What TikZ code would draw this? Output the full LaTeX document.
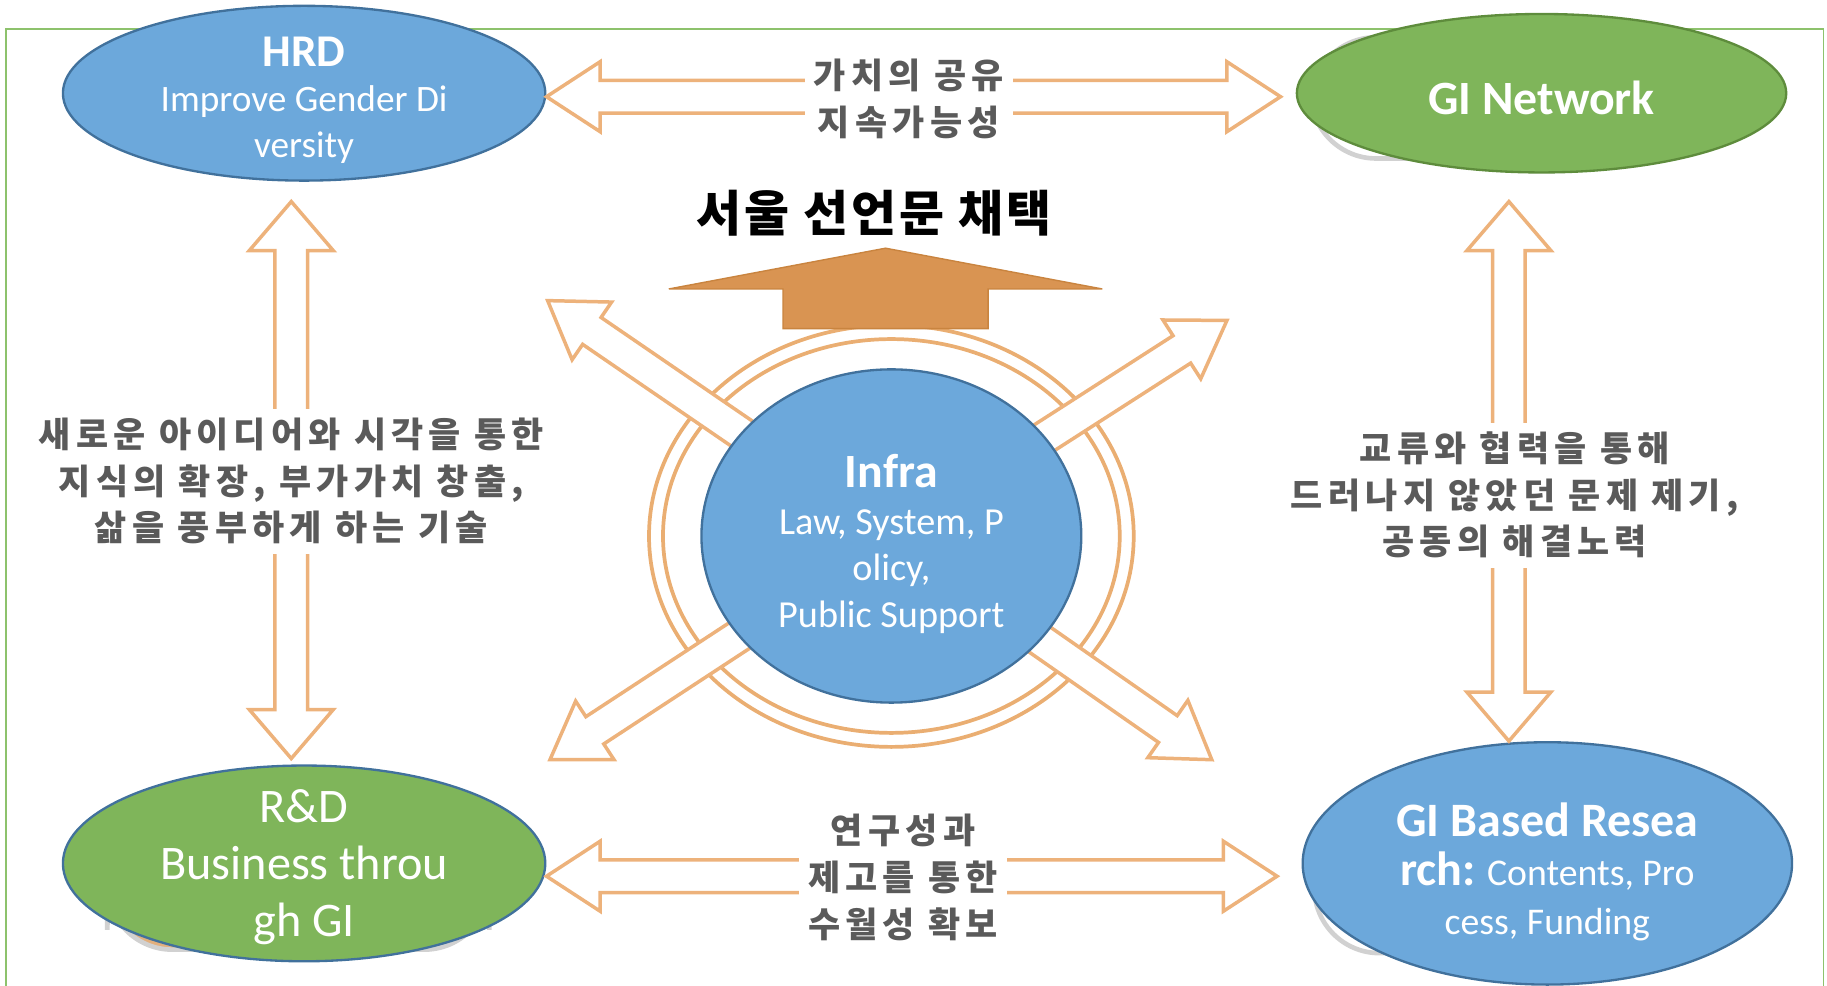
\documentclass[tikz,border=0pt]{standalone}
\usepackage{fontspec}
\setmainfont{Carlito}
\newfontfamily\kr{Noto Sans CJK KR}
\newfontfamily\krwide[LetterSpace=15]{Noto Sans CJK KR}
\newfontfamily\krtitle[LetterSpace=6]{Noto Sans CJK KR}
\usetikzlibrary{shapes,calc,positioning}
\pgfdeclarelayer{edgelayer}
\pgfsetlayers{edgelayer,main}
\definecolor{blfill}{HTML}{6CA8DB}
\definecolor{bledge}{HTML}{41719C}
\definecolor{grfill}{HTML}{7FB55A}
\definecolor{gredge}{HTML}{5E8C3C}
\definecolor{orline}{HTML}{EDB27B}
\definecolor{orring}{HTML}{EAAE72}
\definecolor{orfill}{HTML}{D99452}
\definecolor{oredge}{HTML}{C9843F}
\definecolor{framecol}{HTML}{8DC26C}
\definecolor{krgray}{HTML}{5A5A5A}
\tikzstyle{blueov}=[ellipse,fill=blfill,draw=bledge,line width=1pt,inner sep=0pt]
\tikzstyle{greenov}=[ellipse,fill=grfill,draw=gredge,line width=1pt,inner sep=0pt]
\tikzstyle{wtxt}=[text=white,align=center,inner sep=0pt]
\tikzstyle{krtxt}=[text=krgray,align=center,fill=white,inner sep=4pt,font=\krwide\bfseries\fontsize{15}{20}\selectfont]
\tikzstyle{harrow}=[draw=orline,line width=1.5pt,fill=white,line join=miter]
\tikzstyle{shadowbox}=[draw=black!18,line width=2pt,fill=white,rounded corners=28pt]
\newcommand{\shaftw}{7pt}
\newcommand{\headw}{15pt}
\newcommand{\headl}{23pt}
\newcommand{\dblarrow}[2]{%
\path ($(#1)!\headl!(#2)$) coordinate (ha) ($(#2)!\headl!(#1)$) coordinate (hb);
\draw[harrow] (#1) -- ($(ha)!\headw!90:(#2)$) -- ($(ha)!\shaftw!90:(#2)$)
  -- ($(hb)!\shaftw!-90:(#1)$) -- ($(hb)!\headw!-90:(#1)$) -- (#2)
  -- ($(hb)!\headw!90:(#1)$) -- ($(hb)!\shaftw!90:(#1)$)
  -- ($(ha)!\shaftw!-90:(#2)$) -- ($(ha)!\headw!-90:(#2)$) -- cycle;}
\newcommand{\sglarrow}[2]{%
\path ($(#2)!\headl!(#1)$) coordinate (hb);
\draw[harrow] ($(#1)!\shaftw!90:(#2)$) -- ($(hb)!\shaftw!-90:(#1)$)
  -- ($(hb)!\headw!-90:(#1)$) -- (#2) -- ($(hb)!\headw!90:(#1)$)
  -- ($(hb)!\shaftw!90:(#1)$) -- ($(#1)!\shaftw!-90:(#2)$) -- cycle;}

\begin{document}
\begin{tikzpicture}[x=0.5pt,y=-0.5pt]
\useasboundingbox (0,0) rectangle (1568,846);
% the five ovals
\node[blueov,minimum width=207pt,minimum height=75pt] (H) at (261,80) {};
\node[greenov,minimum width=210pt,minimum height=68pt] (N) at (1323,80) {};
\node[greenov,draw=bledge,minimum width=207pt,minimum height=84pt] (R) at (261,741) {};
\node[blueov,minimum width=210pt,minimum height=104pt] (G) at (1328,741) {};
\node[blueov,minimum width=163pt,minimum height=143pt] (I) at (765,460) {};
\node[wtxt,font=\fontsize{16}{19.5}\selectfont] (Ht) at (261,86)
  {{\bfseries\fontsize{19.5}{21}\selectfont HRD}\\Improve Gender Di\\versity};
\node[wtxt,font=\bfseries\fontsize{20.5}{23}\selectfont] (Nt) at (1323,84) {GI Network};
\node[wtxt,font=\fontsize{20.7}{24.5}\selectfont] (Rt) at (261,744) {R\&D\\Business throu\\gh GI};
\node[wtxt,font=\fontsize{16.2}{21}\selectfont] (Gt) at (1328,748)
  {{\bfseries\fontsize{20.6}{25}\selectfont GI Based Resea}\\{\bfseries\fontsize{20.6}{25}\selectfont rch:} Contents, Pro\\cess, Funding};
\node[wtxt,font=\fontsize{16.4}{20}\selectfont] (It) at (765,467)
  {{\bfseries\fontsize{20.5}{21}\selectfont Infra}\\Law, System, P\\olicy,\\Public Support};
\node[font=\krtitle\bfseries\fontsize{21}{24}\selectfont] (T) at (750,183) {서울 선언문 채택};

\begin{pgfonlayer}{edgelayer}
\draw[framecol,line width=0.6pt] (5,850) -- (5,25) -- (1565,25) -- (1565,850);
\draw[shadowbox] (1125,32) rectangle (1400,136);
\draw[shadowbox,fill=orfill!75!white] (92,742) rectangle (420,815);
\draw[shadowbox] (1128,700) rectangle (1420,818);
% ring round the infra
\draw[orring,line width=1.6pt] (I.center) ellipse [x radius=104pt,y radius=90.5pt];
\draw[orring,line width=1.6pt] (I.center) ellipse [x radius=98pt,y radius=84.5pt];
\coordinate (d1) at (470,258);
\coordinate (d2) at (1053,275);
\coordinate (d3) at (472,652);
\coordinate (d4) at (1040,652);
\coordinate (c) at (I.center);
\sglarrow{c}{d1}
\sglarrow{c}{d2}
\sglarrow{c}{d3}
\sglarrow{c}{d4}
\end{pgfonlayer}

\draw[fill=orfill,draw=oredge,line width=0.6pt] (672,282) -- (672,248) -- (574,248)
  -- (760,213) -- (946,248) -- (848,248) -- (848,282) -- cycle;

\coordinate (t1) at ($(H.east)+(0,3)$);
\coordinate (t2) at ($(N.west)+(-13,3)$);
\coordinate (b1) at ($(R.east)+(0,11)$);
\coordinate (b2) at ($(G.west)+(-21,11)$);
\coordinate (l1) at ($(H.south)+(-11,17)$);
\coordinate (l2) at ($(R.north)+(-11,-5)$);
\coordinate (r1) at ($(N.south)+(-28,24)$);
\coordinate (r2) at ($(G.north)+(-33,0)$);
\dblarrow{t1}{t2}
\dblarrow{b1}{b2}
\renewcommand{\headw}{18pt}
\renewcommand{\headl}{21pt}
\dblarrow{l1}{l2}
\dblarrow{r1}{r2}

\node[krtxt] (Tl) at (780,85) {가치의 공유\\지속가능성};
\node[krtxt] (Bl) at (775,753) {연구성과\\제고를 통한\\수월성 확보};
\node[krtxt] (Ll) at (250,413) {새로운 아이디어와 시각을 통한\\지식의 확장, 부가가치 창출,\\삶을 풍부하게 하는 기술};
\node[krtxt] (Rl) at (1300,425) {교류와 협력을 통해\\드러나지 않았던 문제 제기,\\공동의 해결노력};
\end{tikzpicture}
\end{document}
